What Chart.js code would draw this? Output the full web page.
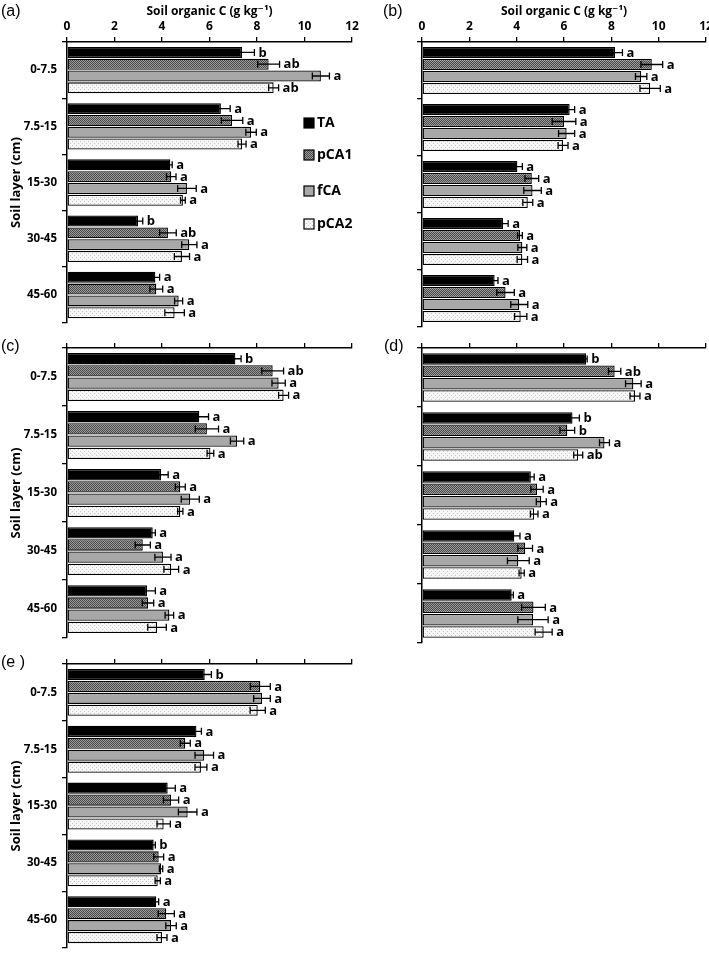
<!DOCTYPE html>
<html>
<head>
<meta charset="utf-8">
<script src="https://cdn.jsdelivr.net/npm/chart.js@4.4.1/dist/chart.umd.min.js"></script>
<style>
  html, body { margin:0; padding:0; background:#fff; overflow:hidden; }
  #wrap { position:relative; width:709px; height:960px; }
  canvas { position:absolute; }
</style>
</head>
<body>
<div id="wrap">
  <canvas id="cA"></canvas>
  <canvas id="cB"></canvas>
  <canvas id="cC"></canvas>
  <canvas id="cD"></canvas>
  <canvas id="cE"></canvas>
</div>
<script>
// ---------------- DATA ----------------
const layers = ['0-7.5', '7.5-15', '15-30', '30-45', '45-60'];
const treatments = ['TA', 'pCA1', 'fCA', 'pCA2'];
const xMin = 0, xMax = 12, xStep = 2;
const xTitle = 'Soil organic C (g kg\u207B\u00B9)';
const yTitle = 'Soil layer (cm)';

// Panel (a): rows = TA, pCA1, fCA, pCA2 ; columns = layers
const socA = [[7.37, 6.48, 4.35, 2.99, 3.72], [8.49, 6.95, 4.39, 4.25, 3.76], [10.69, 7.75, 5.05, 5.15, 4.70], [8.70, 7.37, 4.88, 4.84, 4.53]];
const errA = [[0.52, 0.39, 0.08, 0.20, 0.18], [0.46, 0.45, 0.20, 0.35, 0.27], [0.36, 0.22, 0.39, 0.32, 0.17], [0.21, 0.17, 0.10, 0.32, 0.41]];
const sigA = [['b', 'a', 'a', 'b', 'a'], ['ab', 'a', 'a', 'ab', 'a'], ['a', 'a', 'a', 'a', 'a'], ['ab', 'a', 'a', 'a', 'a']];

// Panel (b)
const socB = [[8.16, 6.24, 4.03, 3.43, 3.07], [9.71, 6.00, 4.64, 4.14, 3.53], [9.26, 6.11, 4.67, 4.24, 4.11], [9.64, 5.96, 4.47, 4.24, 4.17]];
const errB = [[0.31, 0.21, 0.21, 0.21, 0.14], [0.46, 0.50, 0.29, 0.10, 0.37], [0.24, 0.34, 0.37, 0.19, 0.36], [0.43, 0.21, 0.21, 0.22, 0.26]];
const sigB = [['a', 'a', 'a', 'a', 'a'], ['a', 'a', 'a', 'a', 'a'], ['a', 'a', 'a', 'a', 'a'], ['a', 'a', 'a', 'a', 'a']];

// Panel (c)
const socC = [[7.09, 5.57, 3.96, 3.61, 3.37], [8.66, 5.89, 4.77, 3.19, 3.41], [8.91, 7.16, 5.19, 4.04, 4.31], [9.12, 6.04, 4.77, 4.39, 3.79]];
const errC = [[0.24, 0.39, 0.30, 0.11, 0.35], [0.46, 0.49, 0.21, 0.32, 0.24], [0.28, 0.28, 0.38, 0.34, 0.18], [0.21, 0.14, 0.11, 0.31, 0.39]];
const sigC = [['b', 'a', 'a', 'a', 'a'], ['ab', 'a', 'a', 'a', 'a'], ['a', 'a', 'a', 'a', 'a'], ['a', 'a', 'a', 'a', 'a']];

// Panel (d)
const socD = [[6.93, 6.36, 4.60, 3.90, 3.79], [8.14, 6.14, 4.86, 4.36, 4.71], [8.93, 7.71, 5.04, 4.07, 4.69], [9.00, 6.60, 4.74, 4.21, 5.14]];
const errD = [[0.05, 0.29, 0.14, 0.24, 0.07], [0.26, 0.31, 0.26, 0.31, 0.50], [0.33, 0.21, 0.21, 0.46, 0.64], [0.21, 0.19, 0.16, 0.11, 0.36]];
const sigD = [['b', 'b', 'a', 'a', 'a'], ['ab', 'b', 'a', 'a', 'a'], ['a', 'a', 'a', 'a', 'a'], ['a', 'ab', 'a', 'a', 'a']];

// Panel (e)
const socE = [[5.80, 5.45, 4.24, 3.65, 3.76], [8.14, 4.98, 4.38, 3.86, 4.18], [8.21, 5.78, 5.08, 3.96, 4.38], [8.03, 5.64, 4.07, 3.82, 4.00]];
const errE = [[0.28, 0.21, 0.32, 0.07, 0.10], [0.42, 0.21, 0.32, 0.21, 0.34], [0.35, 0.39, 0.39, 0.07, 0.22], [0.32, 0.25, 0.28, 0.11, 0.21]];
const sigE = [['b', 'a', 'a', 'b', 'a'], ['a', 'a', 'a', 'a', 'a'], ['a', 'a', 'a', 'a', 'a'], ['a', 'a', 'a', 'a', 'a']];

// ---------------- STYLES ----------------
function makePattern(kind) {
  const c = document.createElement('canvas');
  const x = c.getContext('2d');
  if (kind === 'hatch') {
    c.width = 2; c.height = 2;
    x.fillStyle = '#9c9c9c'; x.fillRect(0, 0, 2, 2);
    x.fillStyle = '#484848'; x.fillRect(0, 0, 1, 1); x.fillRect(1, 1, 1, 1);
  } else {
    c.width = 4; c.height = 4;
    x.fillStyle = '#f6f6f6'; x.fillRect(0, 0, 4, 4);
    x.fillStyle = '#c4c4c4'; x.fillRect(0, 1, 1, 1); x.fillRect(2, 3, 1, 1);
  }
  return x.createPattern(c, 'repeat');
}
const fills = ['#000000', makePattern('hatch'), '#a8a8a8', makePattern('dots')];
const FONT = "'Open Sans', 'DejaVu Sans', sans-serif";

// ---------------- PLUGIN ----------------
const annot = {
  id: 'annot',
  afterDatasetsDraw(chart) {
    const o = chart.options.plugins.annot;
    const ctx = chart.ctx;
    const xs = chart.scales.x;
    ctx.save();
    ctx.strokeStyle = '#000';
    ctx.lineWidth = 1.3;
    ctx.fillStyle = '#000';
    ctx.font = "bold 13px " + FONT;
    ctx.textAlign = 'left';
    ctx.textBaseline = 'middle';
    chart.data.datasets.forEach((ds, i) => {
      const meta = chart.getDatasetMeta(i);
      meta.data.forEach((bar, j) => {
        const v = ds.data[j], e = o.err[i][j];
        const x1 = xs.getPixelForValue(v - e), x2 = xs.getPixelForValue(v + e);
        const y = bar.y, h = 3.5;
        ctx.beginPath();
        ctx.moveTo(x1, y); ctx.lineTo(x2, y);
        ctx.moveTo(x1, y - h); ctx.lineTo(x1, y + h);
        ctx.moveTo(x2, y - h); ctx.lineTo(x2, y + h);
        ctx.stroke();
        ctx.fillText(o.sig[i][j], x2 + 4, y + 0.5);
      });
    });
    // panel label
    ctx.font = "16px 'Liberation Sans', Arial, sans-serif";
    ctx.textBaseline = 'middle';
    ctx.fillText(o.label, o.labelX, o.labelY);
    // legend
    if (o.legend) {
      ctx.font = "bold 14px " + FONT;
      const ys = [123, 155, 191, 224];
      treatments.forEach((t, i) => {
        ctx.fillStyle = fills[i];
        ctx.fillRect(304, ys[i] - 5, 10, 10);
        ctx.lineWidth = 1.2;
        ctx.strokeRect(304, ys[i] - 5, 10, 10);
        ctx.fillStyle = '#000';
        ctx.fillText(t, 317, ys[i] + 0.5);
      });
    }
    ctx.restore();
  }
};

// ---------------- CHARTS ----------------
function panel(id, pos, cfg) {
  const cv = document.getElementById(id);
  cv.width = pos.w; cv.height = pos.h;
  cv.style.left = pos.left + 'px'; cv.style.top = pos.top + 'px';
  cv.style.width = pos.w + 'px'; cv.style.height = pos.h + 'px';
  new Chart(cv.getContext('2d'), {
    type: 'bar',
    data: {
      labels: layers,
      datasets: treatments.map((t, i) => ({
        label: t,
        data: cfg.soc[i],
        backgroundColor: fills[i],
        borderColor: '#000',
        borderWidth: 1.3,
        borderSkipped: false,
        categoryPercentage: 0.84,
        barPercentage: 0.93
      }))
    },
    options: {
      indexAxis: 'y',
      responsive: false,
      animation: false,
      devicePixelRatio: 1,
      layout: { padding: { left: 0, top: 0, right: pos.pr, bottom: pos.pb } },
      plugins: {
        legend: { display: false },
        tooltip: { enabled: false },
        annot: { err: cfg.err, sig: cfg.sig, label: cfg.label, labelX: cfg.lx, labelY: cfg.ly, legend: !!cfg.legend }
      },
      scales: {
        x: {
          position: 'top',
          min: xMin, max: xMax,
          ticks: { stepSize: xStep, display: !!cfg.xLabels, color: '#000', padding: 3,
                   font: { family: FONT, size: 12, weight: 'bold' } },
          grid: { drawOnChartArea: false, drawTicks: true, tickLength: 5, color: '#000', lineWidth: 1.3 },
          border: { display: true, color: '#000', width: 1.5 },
          title: { display: !!cfg.xLabels, text: xTitle, color: '#000', padding: { top: 4, bottom: 0 },
                   font: { family: FONT, size: 12, weight: 'bold' } },
          afterFit(s) { s.height = pos.xh; }
        },
        y: {
          ticks: { display: !!cfg.yLabels, color: '#000', padding: 5,
                   font: { family: FONT, size: 11.5, weight: 'bold' } },
          grid: { drawOnChartArea: false, drawTicks: true, tickLength: 5, color: '#000', lineWidth: 1.3, offset: true },
          border: { display: true, color: '#000', width: 1.5 },
          title: { display: !!cfg.yLabels, text: yTitle, color: '#000', padding: { top: 8, bottom: 0 },
                   font: { family: FONT, size: 13, weight: 'bold' } },
          afterFit(s) { s.width = 67; }
        }
      }
    },
    plugins: [annot]
  });
}

panel('cA', { left: 0, top: 0, w: 365, h: 335, pr: 13, pb: 8, xh: 42 },
      { soc: socA, err: errA, sig: sigA, label: '(a)', lx: 1, ly: 12, xLabels: true, yLabels: true, legend: true });
panel('cB', { left: 355, top: 0, w: 365, h: 335, pr: 14, pb: 8, xh: 42 },
      { soc: socB, err: errB, sig: sigB, label: '(b)', lx: 28, ly: 12, xLabels: true, yLabels: false });
panel('cC', { left: 0, top: 330, w: 365, h: 320, pr: 13, pb: 7, xh: 18 },
      { soc: socC, err: errC, sig: sigC, label: '(c)', lx: 1, ly: 17, xLabels: false, yLabels: true });
panel('cD', { left: 355, top: 330, w: 365, h: 320, pr: 14, pb: 7, xh: 18 },
      { soc: socD, err: errD, sig: sigD, label: '(d)', lx: 29, ly: 17, xLabels: false, yLabels: false });
panel('cE', { left: 0, top: 650, w: 365, h: 310, pr: 13, pb: 5, xh: 14 },
      { soc: socE, err: errE, sig: sigE, label: '(e )', lx: 1, ly: 13, xLabels: false, yLabels: true });
</script>
</body>
</html>
